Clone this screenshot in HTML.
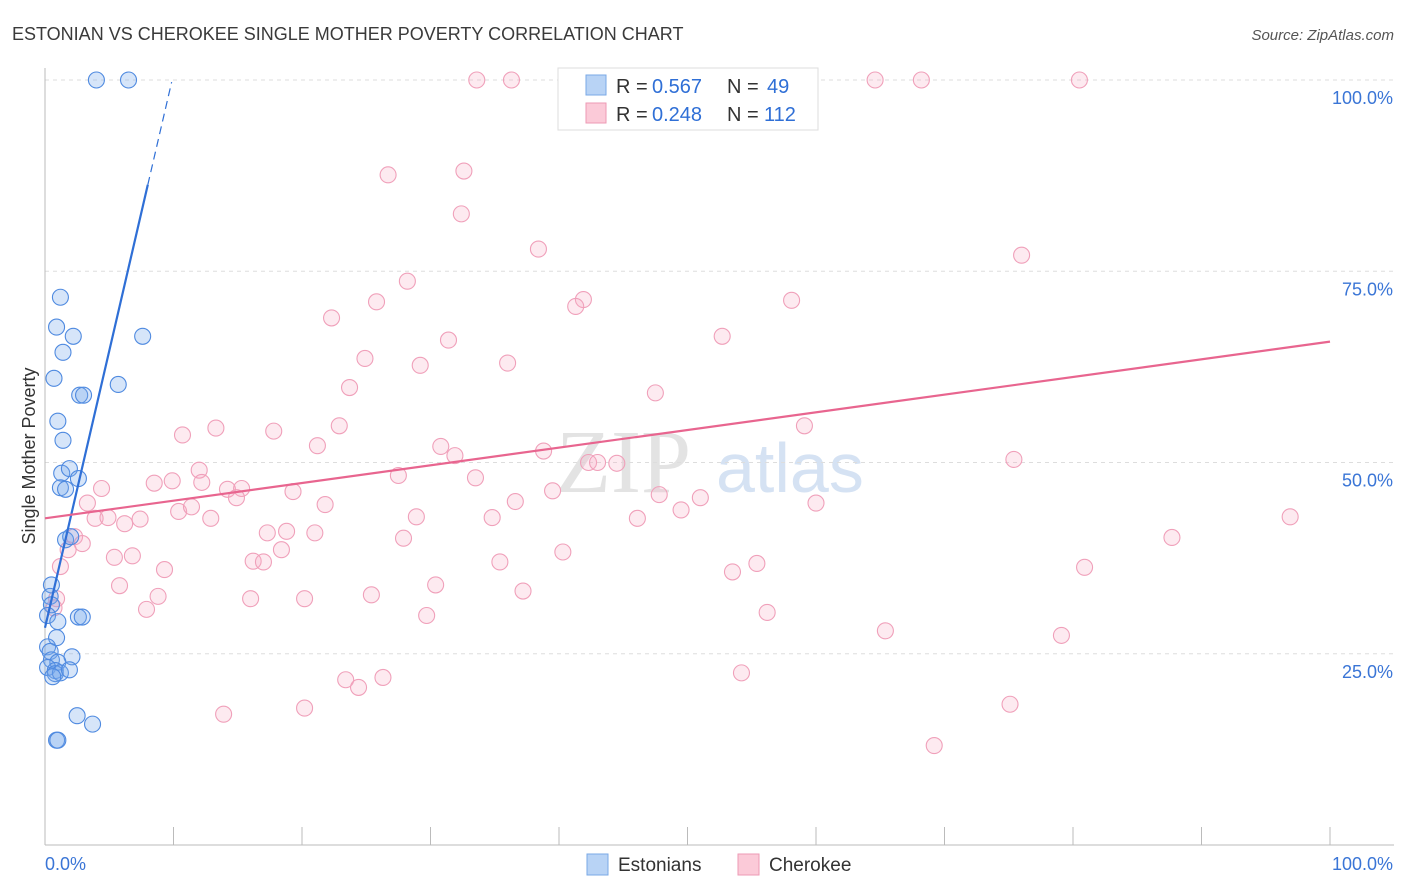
<!DOCTYPE html>
<html><head><meta charset="utf-8">
<style>
body{margin:0;background:#fff;font-family:"Liberation Sans",sans-serif;}
svg{display:block}
</style></head>
<body>
<svg id="chart" width="1406" height="892">
<text x="12" y="40" font-size="18" fill="#3a3a3a">ESTONIAN VS CHEROKEE SINGLE MOTHER POVERTY CORRELATION CHART</text>
<text x="1394" y="40" font-size="15" fill="#555" font-style="italic" text-anchor="end">Source: ZipAtlas.com</text>
<text x="35" y="456" font-size="18" fill="#333" transform="rotate(-90 35 456)" text-anchor="middle">Single Mother Poverty</text>
<text x="556" y="492" font-size="90" fill="#e3e3e3" font-family="Liberation Serif">ZIP</text>
<text x="716" y="492" font-size="70" fill="#d5e2f3">atlas</text>
<g id="grid"></g><g id="axes"></g><g id="pts"></g><g id="lines"></g>
<g>
<rect x="558" y="68" width="260" height="62" fill="#fff" stroke="#ddd"/>
<rect x="586" y="75" width="20" height="20" fill="#b8d3f5" stroke="#7aa8e6"/>
<rect x="586" y="103" width="20" height="20" fill="#fbcad8" stroke="#ee9ab4"/>
<text x="616" y="93" font-size="20" fill="#333">R =</text>
<text x="652" y="93" font-size="20" fill="#2f6fd6">0.567</text>
<text x="727" y="93" font-size="20" fill="#333">N =</text>
<text x="767" y="93" font-size="20" fill="#2f6fd6">49</text>
<text x="616" y="121" font-size="20" fill="#333">R =</text>
<text x="652" y="121" font-size="20" fill="#2f6fd6">0.248</text>
<text x="727" y="121" font-size="20" fill="#333">N =</text>
<text x="764" y="121" font-size="20" fill="#2f6fd6">112</text>
</g>
<g>
<rect x="587" y="854" width="21" height="21" fill="#b8d3f5" stroke="#7aa8e6"/>
<text x="618" y="871" font-size="19" fill="#333">Estonians</text>
<rect x="738" y="854" width="21" height="21" fill="#fbcad8" stroke="#ee9ab4"/>
<text x="769" y="871" font-size="19" fill="#333">Cherokee</text>
</g>
<text x="45" y="870" font-size="18" fill="#3a75d6">0.0%</text>
<text x="1393" y="870" font-size="18" fill="#3a75d6" text-anchor="end">100.0%</text>
</svg>
<script>
const yTicks=[25,50,75,100];
const yTickLabels=["25.0%","50.0%","75.0%","100.0%"];
const estX=[4.0,6.5,1.2,0.9,2.2,1.4,7.6,0.7,5.7,2.7,3.0,1.0,1.4,1.3,1.9,1.2,1.6,2.6,1.6,2.0,0.5,0.4,0.5,0.2,2.6,2.9,1.0,0.9,0.2,0.4,0.5,2.1,1.0,0.2,0.8,0.8,1.2,1.9,0.6,2.5,3.7,0.9,1.0];
const estY=[100,100,71.6,67.7,66.5,64.4,66.5,61.0,60.2,58.8,58.8,55.4,52.9,48.6,49.2,46.7,46.5,47.9,39.9,40.3,34.0,32.5,31.4,30.0,29.8,29.8,29.2,27.1,25.9,25.3,24.2,24.6,23.9,23.2,22.8,22.4,22.5,22.9,22.0,16.9,15.8,13.7,13.7];
const cheX=[33.6,36.3,43.5,51.9,58.8,64.6,68.2,80.5,26.7,32.6,32.4,38.4,76.0,28.2,25.8,41.9,41.3,58.1,22.3,31.4,52.7,24.9,29.2,36.0,23.7,47.5,22.9,13.3,17.8,10.7,21.2,30.8,31.9,38.8,12.0,12.2,8.5,9.9,27.5,33.5,42.3,43.0,44.5,75.4,4.4,14.2,15.3,14.9,19.3,21.8,36.6,39.5,47.8,51.0,7.4,3.3,10.4,11.4,3.9,4.9,6.2,12.9,28.9,34.8,46.1,49.5,60.0,59.1,96.9,2.3,2.9,1.8,17.3,18.8,21.0,27.9,87.7,5.4,6.8,16.2,17.0,18.4,9.3,1.2,35.4,40.3,53.5,55.4,5.8,30.4,37.2,80.9,8.8,16.0,20.2,25.4,0.9,0.7,7.9,29.7,56.2,65.4,79.1,54.2,23.4,26.3,24.4,13.9,20.2,75.1,69.2];
const cheY=[100,100,100,100,100,100,100,100,87.6,88.1,82.5,77.9,77.1,73.7,71.0,71.3,70.4,71.2,68.9,66.0,66.5,63.6,62.7,63.0,59.8,59.1,54.8,54.5,54.1,53.6,52.2,52.1,50.9,51.5,49.0,47.4,47.3,47.6,48.3,48.0,50.0,50.0,49.9,50.4,46.6,46.5,46.6,45.4,46.2,44.5,44.9,46.3,45.8,45.4,42.6,44.7,43.6,44.2,42.7,42.8,42.0,42.7,42.9,42.8,42.7,43.8,44.7,54.8,42.9,40.3,39.4,38.6,40.8,41.0,40.8,40.1,40.2,37.6,37.8,37.1,37.0,38.6,36.0,36.4,37.0,38.3,35.7,36.8,33.9,34.0,33.2,36.3,32.5,32.2,32.2,32.7,32.2,31.0,30.8,30.0,30.4,28.0,27.4,22.5,21.6,21.9,20.6,17.1,17.9,18.4,13.0];
const estLine=[0,28.4,8.0,86.3];
const cheLine=[0,42.7,100,65.8];

const X=v=>45+v*12.85, Y=v=>845-v*7.65;
const NS="http://www.w3.org/2000/svg";
function mk(tag,attrs,parent){const e=document.createElementNS(NS,tag);for(const k in attrs)e.setAttribute(k,attrs[k]);document.getElementById(parent).appendChild(e);return e;}
yTicks.forEach((t,i)=>{
 const l=mk('line',{x1:45,x2:1394,y1:Y(t),y2:Y(t),stroke:'#ddd','stroke-dasharray':'4,4'},'grid');
 
 
 const tx=mk('text',{x:1393,y:Y(t)+24,'font-size':18,fill:'#3a75d6','text-anchor':'end'},'grid');
 tx.textContent=yTickLabels[i];
 
 
});
const ax=mk('line',{x1:45,x2:1394,y1:845,y2:845,stroke:'#bbb'},'axes');


const ay=mk('line',{x1:45,x2:45,y1:68,y2:845,stroke:'#bbb'},'axes');


for(let i=1;i<=10;i++){
 const t=mk('line',{x1:X(i*10),x2:X(i*10),y1:827,y2:845,stroke:'#bbb'},'axes');
 
 
}
cheX.forEach((x,i)=>{
 const c=mk('circle',{cx:X(x),cy:Y(cheY[i]),r:8,fill:'rgba(246,170,195,0.25)',stroke:'#f0a0ba','stroke-width':1.1},'pts');
 
 
});
estX.forEach((x,i)=>{
 const c=mk('circle',{cx:X(x),cy:Y(estY[i]),r:8,fill:'rgba(120,170,235,0.3)',stroke:'#4f8ae0','stroke-width':1.1},'pts');
 
 
});
const sl=(estLine[3]-estLine[1])/(estLine[2]-estLine[0]);
const bl=mk('line',{x1:X(estLine[0]),y1:Y(estLine[1]),x2:X(estLine[2]),y2:Y(estLine[3]),stroke:'#2f6fd6','stroke-width':2.2},'lines');


const xe=estLine[2]+(100-estLine[3])/sl*0.98;
const bd=mk('line',{x1:X(estLine[2]),y1:Y(estLine[3]),x2:X(xe),y2:Y(estLine[3]+(xe-estLine[2])*sl),stroke:'#2f6fd6','stroke-width':1.2,'stroke-dasharray':'8,5'},'lines');


const pl=mk('line',{x1:X(cheLine[0]),y1:Y(cheLine[1]),x2:X(cheLine[2]),y2:Y(cheLine[3]),stroke:'#e8658f','stroke-width':2.2},'lines');


</script>
</body></html>
